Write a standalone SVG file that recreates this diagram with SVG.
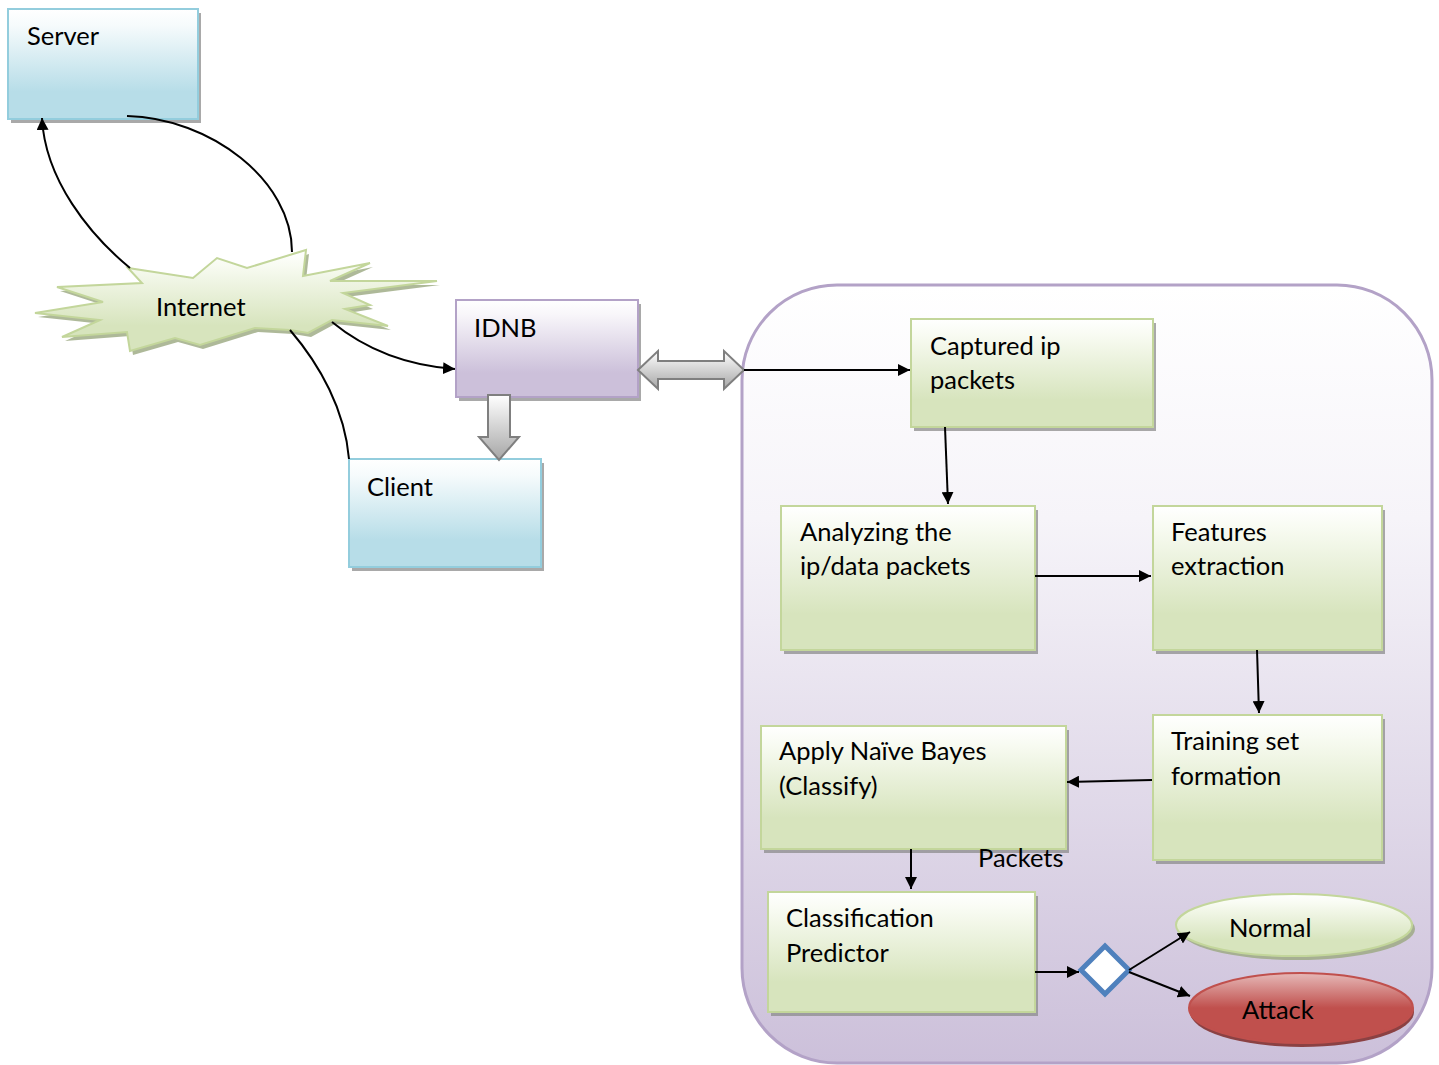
<svg xmlns="http://www.w3.org/2000/svg" width="1439" height="1065" viewBox="0 0 1439 1065">
<defs>
<linearGradient id="gBlue" x1="0" y1="0" x2="0" y2="1"><stop offset="0" stop-color="#ffffff"/><stop offset="0.15" stop-color="#f6fbfc"/><stop offset="0.75" stop-color="#b7dde8"/><stop offset="1" stop-color="#b7dde8"/></linearGradient>
<linearGradient id="gPurple" x1="0" y1="0" x2="0" y2="1"><stop offset="0" stop-color="#ffffff"/><stop offset="0.15" stop-color="#f8f6fa"/><stop offset="0.75" stop-color="#ccc0da"/><stop offset="1" stop-color="#ccc0da"/></linearGradient>
<linearGradient id="gGreen" x1="0" y1="0" x2="0" y2="1"><stop offset="0" stop-color="#ffffff"/><stop offset="0.15" stop-color="#f8fbf2"/><stop offset="0.75" stop-color="#d7e4bd"/><stop offset="1" stop-color="#d7e4bd"/></linearGradient>
<linearGradient id="gCont" x1="0" y1="0" x2="0" y2="1"><stop offset="0" stop-color="#ffffff"/><stop offset="0.3" stop-color="#f6f4f9"/><stop offset="1" stop-color="#ccc0da"/></linearGradient>
<linearGradient id="gRed" x1="0" y1="0" x2="0" y2="1"><stop offset="0" stop-color="#e6b9b8"/><stop offset="0.5" stop-color="#c0504d"/><stop offset="1" stop-color="#c0504d"/></linearGradient>
<linearGradient id="gGray" x1="0" y1="0" x2="0" y2="1"><stop offset="0" stop-color="#ffffff"/><stop offset="1" stop-color="#a6a6a6"/></linearGradient>
<marker id="ah" viewBox="0 0 10 10" refX="10" refY="5" markerWidth="6" markerHeight="6" orient="auto" markerUnits="strokeWidth"><path d="M0,0 L10,5 L0,10 z" fill="#000"/></marker>
</defs>
<style>
.t{font-family:"Lato","Liberation Sans",sans-serif;font-size:25.5px;fill:#000}
.shadow{fill:#8c8c8c;opacity:0.75}
.blue{fill:url(#gBlue);stroke:#93cddd;stroke-width:2}
.purple{fill:url(#gPurple);stroke:#b3a2c7;stroke-width:2}
.green{fill:url(#gGreen);stroke:#c3d69b;stroke-width:2}
.c{fill:none;stroke:#000;stroke-width:2}
.ca{fill:none;stroke:#000;stroke-width:2;marker-end:url(#ah)}
</style>
<g id="container">
<rect x="742" y="285" width="690" height="778" rx="95" ry="95" fill="url(#gCont)" stroke="#b3a2c7" stroke-width="3"/>
</g>
<g id="server">
<rect class="shadow" x="11" y="13" width="190" height="110"/>
<rect class="blue" x="8" y="9" width="190" height="110"/>
<text class="t" x="27" y="45">Server</text>
</g>
<g id="client">
<rect class="shadow" x="352" y="463" width="192" height="108"/>
<rect class="blue" x="349" y="459" width="192" height="108"/>
<text class="t" x="367" y="496">Client</text>
</g>
<g id="internet">
<polygon transform="translate(3,4)" fill="#9aa77f" opacity="0.8" points="128,268 142,283 57,287 103,302 35,313 100,320 62,337 127,332 130,351 175,338 200,345 255,328 290,330 308,333 332,320 388,326 345,309 370,305 343,293 437,281 330,281 370,263 303,276 306,250 247,268 217,258 193,278"/>
<polygon fill="url(#gGreen)" stroke="#c3d69b" stroke-width="2" points="128,268 142,283 57,287 103,302 35,313 100,320 62,337 127,332 130,351 175,338 200,345 255,328 290,330 308,333 332,320 388,326 345,309 370,305 343,293 437,281 330,281 370,263 303,276 306,250 247,268 217,258 193,278"/>
<text class="t" x="156" y="316">Internet</text>
</g>
<g id="idnb">
<rect class="shadow" x="459" y="304" width="182" height="97"/>
<rect class="purple" x="456" y="300" width="182" height="97"/>
<text class="t" x="474" y="337">IDNB</text>
</g>
<g id="captured">
<rect class="shadow" x="914" y="323" width="242" height="108"/>
<rect class="green" x="911" y="319" width="242" height="108"/>
<text class="t" x="930" y="355">Captured ip</text>
<text class="t" x="930" y="389">packets</text>
</g>
<g id="analyzing">
<rect class="shadow" x="784" y="510" width="254" height="144"/>
<rect class="green" x="781" y="506" width="254" height="144"/>
<text class="t" x="800" y="541">Analyzing the</text>
<text class="t" x="800" y="575">ip/data packets</text>
</g>
<g id="features">
<rect class="shadow" x="1156" y="510" width="229" height="144"/>
<rect class="green" x="1153" y="506" width="229" height="144"/>
<text class="t" x="1171" y="541">Features</text>
<text class="t" x="1171" y="575">extraction</text>
</g>
<g id="training">
<rect class="shadow" x="1156" y="719" width="229" height="145"/>
<rect class="green" x="1153" y="715" width="229" height="145"/>
<text class="t" x="1171" y="750">Training set</text>
<text class="t" x="1171" y="785">formation</text>
</g>
<g id="apply">
<rect class="shadow" x="764" y="730" width="305" height="123"/>
<rect class="green" x="761" y="726" width="305" height="123"/>
<text class="t" x="779" y="760">Apply Naïve Bayes</text>
<text class="t" x="779" y="795">(Classify)</text>
</g>
<g id="classification">
<rect class="shadow" x="771" y="896" width="267" height="120"/>
<rect class="green" x="768" y="892" width="267" height="120"/>
<text class="t" x="786" y="927">Classification</text>
<text class="t" x="786" y="962">Predictor</text>
</g>
<g id="packets-label">
<text class="t" x="978" y="867">Packets</text>
</g>
<g id="decision">
<polygon points="1105,946 1129,970 1105,994 1081,970" fill="#ffffff" stroke="#4f81bd" stroke-width="5"/>
</g>
<g id="normal">
<ellipse cx="1297" cy="929" rx="118" ry="31" fill="#9aa77f" opacity="0.8"/>
<ellipse cx="1294" cy="925" rx="118" ry="31" fill="url(#gGreen)" stroke="#c3d69b" stroke-width="2"/>
<text class="t" x="1229" y="937">Normal</text>
</g>
<g id="attack">
<ellipse cx="1302" cy="1012" rx="112" ry="35" fill="#7f2a28" opacity="0.85"/>
<ellipse cx="1301" cy="1008" rx="112" ry="35" fill="url(#gRed)" stroke="#c0504d" stroke-width="2"/>
<text class="t" x="1242" y="1019">Attack</text>
</g>
<g id="connectors">
<path class="ca" d="M130,268 C90,235 45,180 42,118"/>
<path class="c" d="M127,116 C210,118 292,180 292,252"/>
<path class="ca" d="M332,322 C360,345 400,365 455,369"/>
<path class="c" d="M290,330 C320,365 345,410 349,459"/>
<polygon points="488,395 510,395 510,437 519,437 499,460 479,437 488,437" fill="url(#gGray)" stroke="#7f7f7f" stroke-width="2"/>
<polygon points="638,370 658,351 658,361 724,361 724,351 744,370 724,389 724,379 658,379 658,389" fill="url(#gGray)" stroke="#7f7f7f" stroke-width="2"/>
<path class="ca" d="M744,370 L910,370"/>
<path class="ca" d="M945,427 L948,504"/>
<path class="ca" d="M1035,576 L1151,576"/>
<path class="ca" d="M1257,650 L1259,713"/>
<path class="ca" d="M1152,780 L1067,782"/>
<path class="ca" d="M911,849 L911,889"/>
<path class="ca" d="M1035,972 L1079,972"/>
<path class="ca" d="M1129,970 L1190,932"/>
<path class="ca" d="M1129,972 L1190,996"/>
</g>
</svg>
